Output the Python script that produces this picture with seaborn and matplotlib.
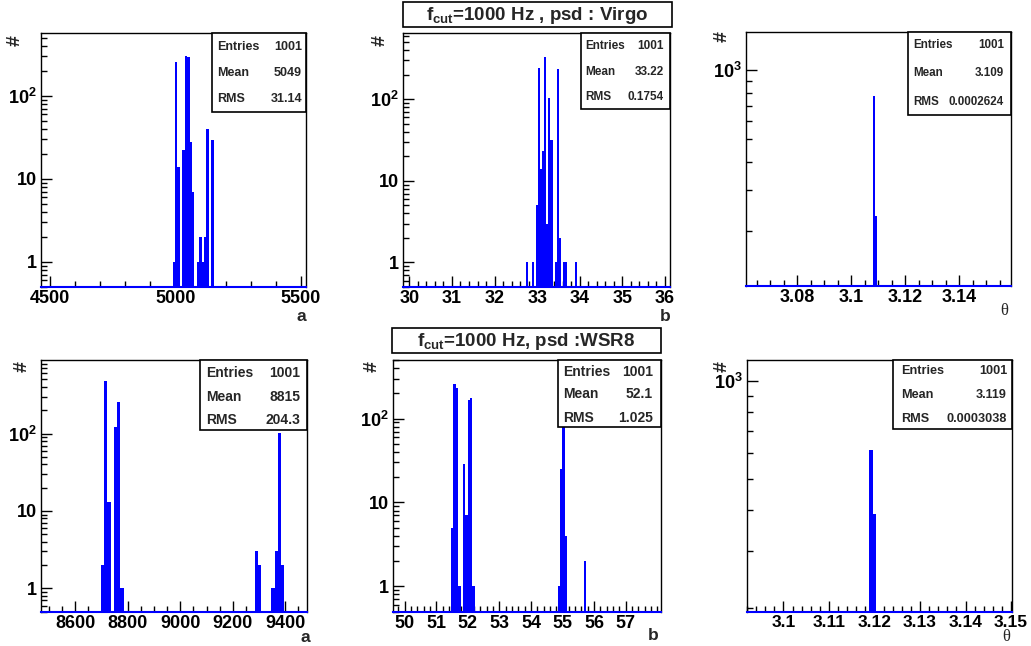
import numpy as np
import pandas as pd
import matplotlib
matplotlib.use("Agg")
import matplotlib.pyplot as plt
import seaborn as sns
from matplotlib.ticker import FixedLocator, MultipleLocator, LogLocator, FuncFormatter, NullFormatter
from matplotlib.patches import Rectangle

# ---------------- data ----------------
# Virgo PSD
a_virgo_centers = [4993.5, 5003.1, 5012.7, 5031.9, 5041.5, 5051.1, 5060.7, 5070.3,
                   5089.5, 5099.1, 5108.7, 5118.3, 5127.9, 5147.1]
a_virgo_counts = [1, 254, 14, 22, 303, 292, 28, 7, 1, 2, 1, 2, 40, 29]
a_virgo_width = 9.6

b_virgo_centers = [32.7555, 32.901, 32.998, 33.0465, 33.095, 33.1435, 33.192, 33.2405,
                   33.289, 33.3375, 33.4345, 33.483, 33.5315, 33.6285, 33.677, 33.9195]
b_virgo_counts = [1, 1, 5, 245, 14, 23, 330, 3, 105, 32, 1, 233, 2, 1, 1, 1]
b_virgo_width = 0.0485

t_virgo_centers = [3.1083, 3.1091]
t_virgo_counts = [770, 231]
t_virgo_width = 0.0008

# WSR8 PSD
a_wsr8_centers = [8703.25, 8715.75, 8728.25, 8753.25, 8765.75, 8778.25,
                  9290.75, 9303.25, 9353.25, 9365.75, 9378.25, 9390.75]
a_wsr8_counts = [2, 478, 13, 123, 259, 1, 3, 2, 1, 3, 103, 2]
a_wsr8_width = 12.5

b_wsr8_centers = [51.5075, 51.5825, 51.6575, 51.7325, 51.8825, 51.9575, 52.0325, 52.1075,
                  52.1825, 54.8825, 54.9575, 55.0325, 55.1075, 55.7075]
b_wsr8_counts = [5, 260, 230, 1, 29, 7, 165, 175, 1, 1, 25, 90, 4, 2]
b_wsr8_width = 0.075

t_wsr8_centers = [3.1192, 3.1200]
t_wsr8_counts = [612, 389]
t_wsr8_width = 0.0008

titles = [r"f$_{cut}$=1000 Hz , psd : Virgo", r"f$_{cut}$=1000 Hz, psd :WSR8"]
stat_labels = ["Entries", "Mean", "RMS"]
stats_values = [
    ["1001", "5049", "31.14"],
    ["1001", "33.22", "0.1754"],
    ["1001", "3.109", "0.0002624"],
    ["1001", "8815", "204.3"],
    ["1001", "52.1", "1.025"],
    ["1001", "3.119", "0.0003038"],
]
x_names = ["a", "b", "θ", "a", "b", "θ"]

# ---------------- style ----------------
sns.set_theme(style="ticks")
plt.rcParams['font.family'] = ['Liberation Sans', 'DejaVu Sans']
plt.rcParams['font.weight'] = 'bold'
plt.rcParams['mathtext.fontset'] = 'custom'
plt.rcParams['mathtext.rm'] = 'Liberation Sans:bold'
plt.rcParams['mathtext.bf'] = 'Liberation Sans:bold'
plt.rcParams['mathtext.it'] = 'Liberation Sans:bold'
plt.rcParams['mathtext.default'] = 'bf'

W, H = 1031, 646
fig = plt.figure(figsize=(W / 100, H / 100), dpi=100)
fig.patch.set_facecolor('white')


def fx(px):
    return px / W


def fy(py):
    return 1 - py / H


BLUE = '#0000ff'

# lab = (x center, baseline y) of the axis name, in pixels
panels = [
    dict(c=a_virgo_centers, n=a_virgo_counts, w=a_virgo_width, box=(41, 306, 33, 287),
         xlim=(4464, 5520), ylim=(0.5, 570), xmaj=[4500, 5000, 5500], xmin=100,
         ymaj=[1, 10, 100], xfs=13,
         sbox=(212, 306, 33, 112), slx=217, svx=302, sy=[47, 73, 99], sfs=9,
         lab=(301, 321), hash=(15, 41)),
    dict(c=b_virgo_centers, n=b_virgo_counts, w=b_virgo_width, box=(403, 670, 33, 287),
         xlim=(29.85, 36.12), ylim=(0.5, 650), xmaj=[30, 31, 32, 33, 34, 35, 36], xmin=0.2,
         ymaj=[1, 10, 100], xfs=13,
         sbox=(581, 670, 33, 109), slx=585, svx=664, sy=[46, 72, 97], sfs=8.5,
         lab=(665, 321), hash=(380, 40)),
    dict(c=t_virgo_centers, n=t_virgo_counts, w=t_virgo_width, box=(746, 1011, 32, 286),
         xlim=(3.061, 3.1591), ylim=(115, 1468), xmaj=[3.08, 3.10, 3.12, 3.14], xmin=0.005,
         ymaj=[1000], xfs=13,
         sbox=(908, 1011, 32, 115), slx=913, svx=1004, sy=[45, 73, 102], sfs=8.4,
         lab=(1004, 315), hash=(722, 37)),
    dict(c=a_wsr8_centers, n=a_wsr8_counts, w=a_wsr8_width, box=(41, 307, 360, 612),
         xlim=(8469, 9483), ylim=(0.495, 892), xmaj=[8600, 8800, 9000, 9200, 9400], xmin=50,
         ymaj=[1, 10, 100], xfs=13,
         sbox=(200, 307, 360, 430), slx=206, svx=300, sy=[373, 397, 420], sfs=10,
         lab=(305, 642), hash=(22, 367)),
    dict(c=b_wsr8_centers, n=b_wsr8_counts, w=b_wsr8_width, box=(393, 661, 360, 612),
         xlim=(49.63, 58.12), ylim=(0.494, 500), xmaj=[50, 51, 52, 53, 54, 55, 56, 57], xmin=0.2,
         ymaj=[1, 10, 100], xfs=13,
         sbox=(558, 661, 360, 427), slx=563, svx=653, sy=[372, 394, 418], sfs=10,
         lab=(653, 640), hash=(372, 367)),
    dict(c=t_wsr8_centers, n=t_wsr8_counts, w=t_wsr8_width, box=(747, 1012, 360, 612),
         xlim=(3.092, 3.1502), ylim=(194, 1161), xmaj=[3.10, 3.11, 3.12, 3.13, 3.14, 3.15], xmin=0.002,
         ymaj=[1000], xfs=12.5,
         sbox=(893, 1012, 360, 429), slx=901, svx=1007, sy=[371, 395, 419], sfs=9.1,
         lab=(1006, 641), hash=(722, 367)),
]


def ylab(v, pos):
    if v == 1:
        return "1"
    if v == 10:
        return "10"
    e = int(round(np.log10(v)))
    return r"$10^{%d}$" % e


for i, p in enumerate(panels):
    l, r, t, b = p['box']
    ax = fig.add_axes([fx(l), fy(b), (r - l) / W, (b - t) / H])
    ax.set_facecolor('white')
    df = pd.DataFrame({'x': p['c'], 'n': p['n']})
    w = p['w']
    sns.histplot(data=df, x='x', weights='n', binwidth=w,
                 binrange=(min(p['c']) - w / 2, max(p['c']) + w / 2),
                 ax=ax, color=BLUE, alpha=1, edgecolor='none', linewidth=0, stat='count')
    ax.set_yscale('log')
    ax.set_xlim(*p['xlim'])
    ax.set_ylim(*p['ylim'])
    ax.set_xlabel('')
    ax.set_ylabel('')

    ax.xaxis.set_major_locator(FixedLocator(p['xmaj']))
    ax.xaxis.set_minor_locator(MultipleLocator(p['xmin']))
    ax.xaxis.set_major_formatter(FuncFormatter(lambda v, pos: f"{v:g}"))
    ax.yaxis.set_major_locator(FixedLocator(p['ymaj']))
    ax.yaxis.set_minor_locator(LogLocator(base=10, subs=np.arange(2, 10)))
    ax.yaxis.set_major_formatter(FuncFormatter(ylab))
    ax.yaxis.set_minor_formatter(NullFormatter())

    ax.tick_params(axis='both', which='both', direction='in', top=False, right=False,
                   colors='black', width=1)
    ax.tick_params(axis='both', which='major', length=8)
    ax.tick_params(axis='both', which='minor', length=4)
    ax.tick_params(axis='x', which='major', pad=2, labelsize=p['xfs'])
    ax.tick_params(axis='y', which='major', pad=3, labelsize=13)
    for lbl in ax.get_xticklabels() + ax.get_yticklabels():
        lbl.set_fontweight('bold')

    for s in ['left', 'right', 'top']:
        ax.spines[s].set_color('black')
        ax.spines[s].set_linewidth(1)
    ax.spines['bottom'].set_color(BLUE)
    ax.spines['bottom'].set_linewidth(1.5)
    ax.grid(False)

    # stats box
    x0, x1, y0, y1 = p['sbox']
    rect = Rectangle((fx(x0), fy(y1)), (x1 - x0) / W, (y1 - y0) / H,
                     transform=fig.transFigure, facecolor='white', edgecolor='black',
                     linewidth=1.2, zorder=5)
    fig.add_artist(rect)
    for k in range(3):
        fig.text(fx(p['slx']), fy(p['sy'][k]), stat_labels[k], ha='left', va='center',
                 fontsize=p['sfs'], fontweight='bold', zorder=6)
        fig.text(fx(p['svx']), fy(p['sy'][k]), stats_values[i][k], ha='right', va='center',
                 fontsize=p['sfs'], fontweight='bold', zorder=6)

    # axis labels
    if x_names[i] == "θ":
        fig.text(fx(p['lab'][0]), fy(p['lab'][1]), x_names[i], ha='center', va='baseline',
                 fontsize=12, fontweight='normal', family=['Liberation Serif', 'DejaVu Serif'])
    else:
        fig.text(fx(p['lab'][0]), fy(p['lab'][1]), x_names[i], ha='center', va='baseline',
                 fontsize=12.5, fontweight='bold')
    fig.text(fx(p['hash'][0]), fy(p['hash'][1]), "#", ha='center', va='center',
             fontsize=14, fontweight='bold', rotation=90)

# titles
for (x0, x1, y0, y1), txt in zip([(403, 672, 2, 27), (392, 661, 328, 353)], titles):
    rect = Rectangle((fx(x0), fy(y1)), (x1 - x0) / W, (y1 - y0) / H,
                     transform=fig.transFigure, facecolor='white', edgecolor='black',
                     linewidth=1.2, zorder=5)
    fig.add_artist(rect)
    fig.text(fx((x0 + x1) / 2), fy((y0 + y1) / 2 + 1), txt, ha='center', va='center',
             fontsize=13.5, fontweight='bold', zorder=6)

fig.savefig("out.png", dpi=100, facecolor='white')
